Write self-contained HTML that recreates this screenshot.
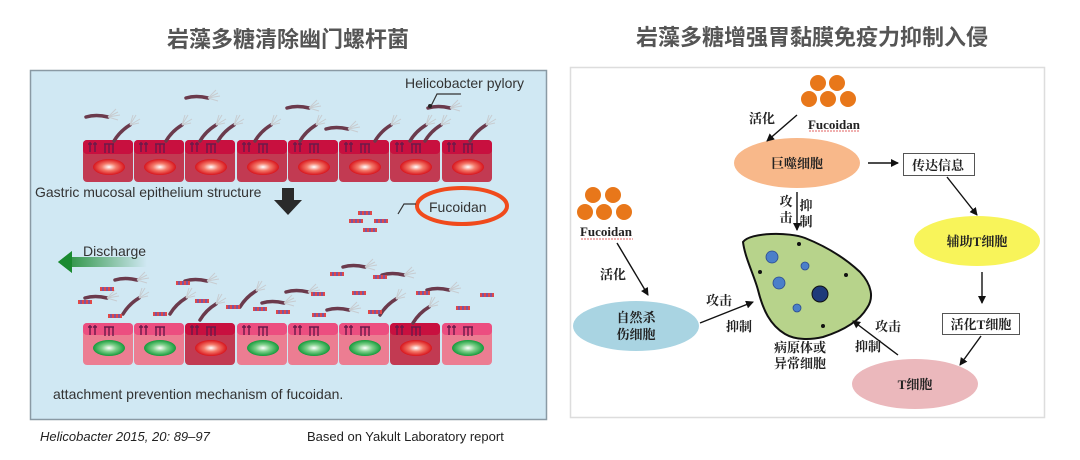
<!DOCTYPE html>
<html><head><meta charset="utf-8"><style>
html,body{margin:0;padding:0;background:#fff;}
svg{display:block}
</style></head><body>
<svg width="1080" height="460" viewBox="0 0 1080 460" xmlns="http://www.w3.org/2000/svg">
<defs>
<radialGradient id="rn"><stop offset="0" stop-color="#fff"/><stop offset="0.45" stop-color="#f47a6a"/><stop offset="1" stop-color="#d8141c"/></radialGradient>
<radialGradient id="gn"><stop offset="0" stop-color="#fff"/><stop offset="0.45" stop-color="#7fd08a"/><stop offset="1" stop-color="#139a3a"/></radialGradient>
<linearGradient id="dg" x1="0" x2="1"><stop offset="0" stop-color="#1a8a30"/><stop offset="1" stop-color="#1a8a30" stop-opacity="0"/></linearGradient>
<g id="recp" stroke="#6a1a4a" stroke-width="1.4" fill="none">
<path d="M7 2v10M12 2v10M5 4h4M10 4h4M22 4v9M26 4v9M30 4v9M21 4h10"/>
</g>
<g id="bact"><path d="M0 0 q10 -3 22 0" stroke="#6b3a4c" stroke-width="3.5" fill="none" stroke-linecap="round"/><path d="M22 0 l10 -5 M22 0 l12 -2 M22 0 l10 3 M22 0 l8 -8" stroke="#c8ccd0" stroke-width="1" fill="none"/></g>
<g id="bup"><path d="M0 0 q6 -10 16 -16" stroke="#6b3a4c" stroke-width="3.5" fill="none" stroke-linecap="round"/><path d="M16 -16 l6 -10 M16 -16 l10 -6 M16 -16 l9 -2 M16 -16 l3 -10" stroke="#c8ccd0" stroke-width="1" fill="none"/></g>
<g id="fuc"><rect x="0" y="0" width="14" height="4" fill="#e04848"/><path d="M3 0v4M7 0v4M11 0v4" stroke="#4a5ad0" stroke-width="1.3"/></g>
<marker id="ar" markerWidth="8" markerHeight="8" refX="7" refY="4" orient="auto" markerUnits="userSpaceOnUse"><path d="M0 0L8 4L0 8z" fill="#111"/></marker>
</defs>

<text x="288" y="47" text-anchor="middle" font-family="Liberation Sans, Noto Sans CJK SC, sans-serif" font-size="22" font-weight="bold" fill="#555">岩藻多糖清除幽门螺杆菌</text>
<text x="812" y="45" text-anchor="middle" font-family="Liberation Sans, Noto Sans CJK SC, sans-serif" font-size="22" font-weight="bold" fill="#555">岩藻多糖增强胃黏膜免疫力抑制入侵</text>

<rect x="30.5" y="70.5" width="516" height="349" fill="#d0e8f3" stroke="#8a9aa4" stroke-width="1.5"/>
<g>
<g transform="translate(83,140)"><rect width="50" height="42" rx="4" fill="#c23a52"/><rect width="50" height="14" rx="4" fill="#c8103f"/><ellipse cx="26" cy="27" rx="16" ry="8" fill="url(#rn)"/><use href="#recp"/></g>
<g transform="translate(134,140)"><rect width="50" height="42" rx="4" fill="#c23a52"/><rect width="50" height="14" rx="4" fill="#c8103f"/><ellipse cx="26" cy="27" rx="16" ry="8" fill="url(#rn)"/><use href="#recp"/></g>
<g transform="translate(185,140)"><rect width="50" height="42" rx="4" fill="#c23a52"/><rect width="50" height="14" rx="4" fill="#c8103f"/><ellipse cx="26" cy="27" rx="16" ry="8" fill="url(#rn)"/><use href="#recp"/></g>
<g transform="translate(237,140)"><rect width="50" height="42" rx="4" fill="#c23a52"/><rect width="50" height="14" rx="4" fill="#c8103f"/><ellipse cx="26" cy="27" rx="16" ry="8" fill="url(#rn)"/><use href="#recp"/></g>
<g transform="translate(288,140)"><rect width="50" height="42" rx="4" fill="#c23a52"/><rect width="50" height="14" rx="4" fill="#c8103f"/><ellipse cx="26" cy="27" rx="16" ry="8" fill="url(#rn)"/><use href="#recp"/></g>
<g transform="translate(339,140)"><rect width="50" height="42" rx="4" fill="#c23a52"/><rect width="50" height="14" rx="4" fill="#c8103f"/><ellipse cx="26" cy="27" rx="16" ry="8" fill="url(#rn)"/><use href="#recp"/></g>
<g transform="translate(390,140)"><rect width="50" height="42" rx="4" fill="#c23a52"/><rect width="50" height="14" rx="4" fill="#c8103f"/><ellipse cx="26" cy="27" rx="16" ry="8" fill="url(#rn)"/><use href="#recp"/></g>
<g transform="translate(442,140)"><rect width="50" height="42" rx="4" fill="#c23a52"/><rect width="50" height="14" rx="4" fill="#c8103f"/><ellipse cx="26" cy="27" rx="16" ry="8" fill="url(#rn)"/><use href="#recp"/></g>
</g>
<use href="#bact" x="86" y="117"/><use href="#bact" x="186" y="98"/><use href="#bact" x="287" y="108"/><use href="#bact" x="326" y="129"/><use href="#bact" x="428" y="108"/>
<use href="#bup" x="114" y="141"/><use href="#bup" x="166" y="141"/><use href="#bup" x="200" y="141"/><use href="#bup" x="218" y="141"/><use href="#bup" x="255" y="141"/><use href="#bup" x="300" y="141"/><use href="#bup" x="375" y="141"/><use href="#bup" x="410" y="141"/><use href="#bup" x="425" y="141"/><use href="#bup" x="470" y="141"/>
<g font-family="Liberation Sans, sans-serif" fill="#333">
<text x="405" y="88" font-size="14">Helicobacter pylory</text>
<path d="M461 94h-24l-6 12" stroke="#333" fill="none" stroke-width="1.2"/><circle cx="430" cy="106" r="2" fill="#222"/>
<text x="35" y="197" font-size="14">Gastric mucosal epithelium structure</text>
<text x="83" y="256" font-size="14">Discharge</text>
<text x="53" y="399" font-size="14">attachment prevention mechanism of fucoidan.</text>
<text x="429" y="212" font-size="14">Fucoidan</text>
</g>
<path d="M282 188h12v12h8l-14 15l-14-15h8z" fill="#2a2a2a"/>
<ellipse cx="462" cy="206" rx="45" ry="18" fill="none" stroke="#f04a1c" stroke-width="4"/>
<path d="M416 204h-12l-6 10" stroke="#333" fill="none" stroke-width="1.2"/>
<use href="#fuc" x="358" y="211"/><use href="#fuc" x="349" y="219"/><use href="#fuc" x="374" y="219"/><use href="#fuc" x="363" y="228"/>
<path d="M58 262l14-11v6h75v10h-75v6z" fill="url(#dg)"/>
<path d="M58 262l14-11v22z" fill="#1a8a30"/>
<g>
<g transform="translate(83,323)"><rect width="50" height="42" rx="4" fill="#ec7d92"/><rect width="50" height="12" rx="4" fill="#ec4e80"/><ellipse cx="26" cy="25" rx="16" ry="8" fill="url(#gn)"/><use href="#recp"/></g>
<g transform="translate(134,323)"><rect width="50" height="42" rx="4" fill="#ec7d92"/><rect width="50" height="12" rx="4" fill="#ec4e80"/><ellipse cx="26" cy="25" rx="16" ry="8" fill="url(#gn)"/><use href="#recp"/></g>
<g transform="translate(185,323)"><rect width="50" height="42" rx="4" fill="#c23a52"/><rect width="50" height="12" rx="4" fill="#c8103f"/><ellipse cx="26" cy="25" rx="16" ry="8" fill="url(#rn)"/><use href="#recp"/></g>
<g transform="translate(237,323)"><rect width="50" height="42" rx="4" fill="#ec7d92"/><rect width="50" height="12" rx="4" fill="#ec4e80"/><ellipse cx="26" cy="25" rx="16" ry="8" fill="url(#gn)"/><use href="#recp"/></g>
<g transform="translate(288,323)"><rect width="50" height="42" rx="4" fill="#ec7d92"/><rect width="50" height="12" rx="4" fill="#ec4e80"/><ellipse cx="26" cy="25" rx="16" ry="8" fill="url(#gn)"/><use href="#recp"/></g>
<g transform="translate(339,323)"><rect width="50" height="42" rx="4" fill="#ec7d92"/><rect width="50" height="12" rx="4" fill="#ec4e80"/><ellipse cx="26" cy="25" rx="16" ry="8" fill="url(#gn)"/><use href="#recp"/></g>
<g transform="translate(390,323)"><rect width="50" height="42" rx="4" fill="#c23a52"/><rect width="50" height="12" rx="4" fill="#c8103f"/><ellipse cx="26" cy="25" rx="16" ry="8" fill="url(#rn)"/><use href="#recp"/></g>
<g transform="translate(442,323)"><rect width="50" height="42" rx="4" fill="#ec7d92"/><rect width="50" height="12" rx="4" fill="#ec4e80"/><ellipse cx="26" cy="25" rx="16" ry="8" fill="url(#gn)"/><use href="#recp"/></g>
</g>
<use href="#bact" x="115" y="280"/><use href="#bact" x="185" y="281"/><use href="#bact" x="85" y="298"/><use href="#bact" x="286" y="292"/><use href="#bact" x="262" y="303"/><use href="#bact" x="343" y="267"/><use href="#bact" x="382" y="275"/><use href="#bact" x="327" y="310"/><use href="#bact" x="427" y="290"/>
<use href="#bup" x="123" y="314"/><use href="#bup" x="170" y="314"/><use href="#bup" x="200" y="320"/><use href="#bup" x="240" y="307"/><use href="#bup" x="380" y="315"/><use href="#bup" x="413" y="323"/>
<use href="#fuc" x="100" y="287"/><use href="#fuc" x="78" y="300"/><use href="#fuc" x="108" y="314"/><use href="#fuc" x="176" y="281"/><use href="#fuc" x="195" y="299"/><use href="#fuc" x="153" y="312"/><use href="#fuc" x="226" y="305"/><use href="#fuc" x="253" y="307"/><use href="#fuc" x="276" y="310"/><use href="#fuc" x="330" y="272"/><use href="#fuc" x="373" y="275"/><use href="#fuc" x="311" y="292"/><use href="#fuc" x="352" y="291"/><use href="#fuc" x="312" y="313"/><use href="#fuc" x="368" y="310"/><use href="#fuc" x="416" y="291"/><use href="#fuc" x="480" y="293"/><use href="#fuc" x="456" y="306"/>

<g font-family="Liberation Sans, sans-serif" fill="#222" font-size="13">
<text x="40" y="441" font-style="italic">Helicobacter 2015, 20: 89–97</text>
<text x="307" y="441">Based on Yakult Laboratory report</text>
</g>

<rect x="570.5" y="67.5" width="474" height="350" fill="#fff" stroke="#ddd" stroke-width="1.5"/>
<g fill="#e8771a">
<circle cx="818" cy="83" r="8"/><circle cx="837" cy="83" r="8"/><circle cx="809" cy="99" r="8"/><circle cx="828" cy="99" r="8"/><circle cx="848" cy="99" r="8"/>
<circle cx="593" cy="195" r="8"/><circle cx="613" cy="195" r="8"/><circle cx="585" cy="212" r="8"/><circle cx="604" cy="212" r="8"/><circle cx="624" cy="212" r="8"/>
</g>
<ellipse cx="797" cy="163" rx="63" ry="25" fill="#f8b88a"/>
<ellipse cx="977" cy="241" rx="63" ry="25" fill="#f8f45a"/>
<ellipse cx="915" cy="384" rx="63" ry="25" fill="#ebb8bc"/>
<ellipse cx="636" cy="326" rx="63" ry="25" fill="#a9d4e2"/>
<rect x="903.5" y="153.5" width="71" height="22" fill="#fff" stroke="#555"/>
<rect x="942.5" y="313.5" width="77" height="21" fill="#fff" stroke="#555"/>
<path d="M743 242 C750 232 790 232 805 238 C825 246 845 258 860 272 C872 285 874 298 867 308 C860 320 845 330 823 337 C810 340 795 340 785 334 C770 325 763 310 758 290 C754 275 745 258 743 242z" fill="#b7d38b" stroke="#111" stroke-width="2"/>
<g fill="#4a7fc9" stroke="#2a4a90" stroke-width="0.8">
<circle cx="772" cy="257" r="6"/><circle cx="805" cy="266" r="4"/><circle cx="779" cy="283" r="6"/><circle cx="797" cy="308" r="4"/></g>
<circle cx="820" cy="294" r="8" fill="#1e3a7a" stroke="#111"/>
<g fill="#111"><circle cx="799" cy="244" r="2"/><circle cx="760" cy="272" r="2"/><circle cx="846" cy="275" r="2"/><circle cx="823" cy="326" r="2"/></g>
<g stroke="#111" stroke-width="1.4" fill="none" marker-end="url(#ar)">
<path d="M797 115L767 141"/><path d="M868 163H898"/><path d="M947 177L977 215"/><path d="M982 272V303"/><path d="M981 336L960 365"/><path d="M898 355L853 321"/><path d="M617 243L648 295"/><path d="M700 323L753 302"/><path d="M797 192V230"/>
</g>
<g font-family="Liberation Serif, Noto Serif CJK SC, serif" font-weight="bold" fill="#222">
<text x="834" y="129" text-anchor="middle" font-size="13">Fucoidan</text>
<text x="606" y="236" text-anchor="middle" font-size="13">Fucoidan</text>
</g>
<path d="M809 131h50M581 239h52" stroke="#e06060" stroke-width="1" stroke-dasharray="2 1"/>
<g font-family="Liberation Serif, Noto Serif CJK SC, serif" fill="#222" font-size="13" font-weight="bold" text-anchor="middle">
<text x="762" y="123">活化</text>
<text x="797" y="168">巨噬细胞</text>
<text x="938" y="170">传达信息</text>
<text x="977" y="246">辅助T细胞</text>
<text x="981" y="329">活化T细胞</text>
<text x="915" y="389">T细胞</text>
<text x="636" y="322">自然杀</text>
<text x="636" y="339">伤细胞</text>
<text x="613" y="279">活化</text>
<text x="719" y="305">攻击</text>
<text x="739" y="331">抑制</text>
<text x="888" y="331">攻击</text>
<text x="868" y="351">抑制</text>
<text x="786" y="206">攻</text>
<text x="786" y="222">击</text>
<text x="806" y="210">抑</text>
<text x="806" y="226">制</text>
<text x="800" y="352">病原体或</text>
<text x="800" y="368">异常细胞</text>
</g>
</svg>
</body></html>
